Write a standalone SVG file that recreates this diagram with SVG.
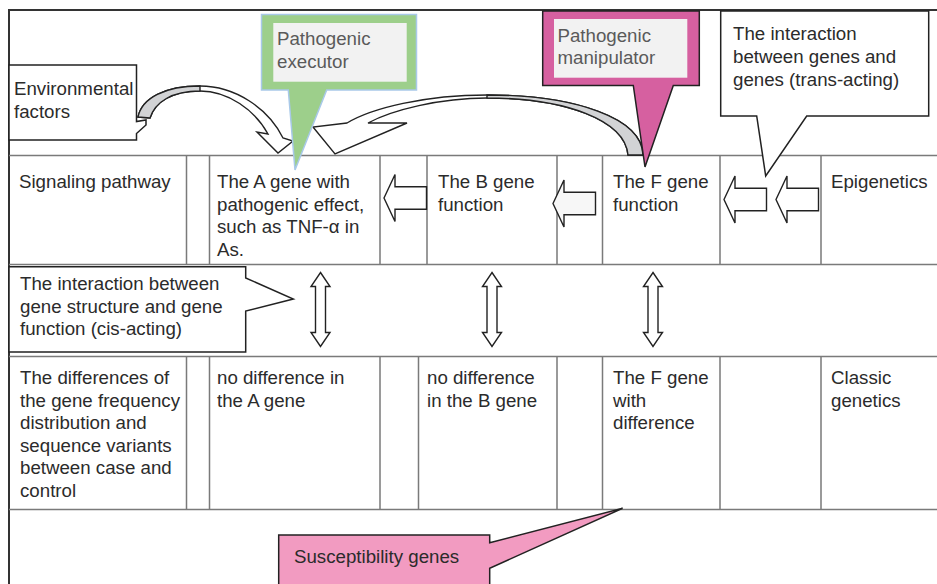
<svg xmlns="http://www.w3.org/2000/svg" width="937" height="584" viewBox="0 0 937 584">
<defs>
<style>
text{font-family:"Liberation Sans",Arial,sans-serif;font-size:18.7px;fill:#2b2b2b}
.grid{stroke:#7a7a7a;stroke-width:1.5;fill:none}
.frame{stroke:#333;stroke-width:2;fill:none}
.blk{fill:#fff;stroke:#222;stroke-width:1.4;stroke-linejoin:miter}
.call{stroke:#222;stroke-width:1.5;stroke-linejoin:miter}
.soft{fill:#5a5a5a}
.grey{fill:#d2d3d5;stroke:#222;stroke-width:1.4}
</style>
<path id="dbl" d="M0,0 L9.5,14 L5,14 L5,60 L9.5,60 L0,74 L-9.5,60 L-5,60 L-5,14 L-9.5,14 Z"/>
<path id="left" d="M0,0 L11,-23.5 L11,-11.3 L42.5,-11.3 L42.5,11.3 L11,11.3 L11,23.5 Z"/>
</defs>
<rect x="0" y="0" width="937" height="584" fill="#fff"/>

<g id="table">
<line class="frame" x1="9" y1="10" x2="937" y2="10"/>
<line class="frame" x1="9" y1="9" x2="9" y2="584"/>
<line class="grid" x1="9" y1="155.5" x2="937" y2="155.5"/>
<line class="grid" x1="9" y1="264.5" x2="937" y2="264.5"/>
<line class="grid" x1="9" y1="356.5" x2="937" y2="356.5"/>
<line class="grid" x1="9" y1="509.5" x2="937" y2="509.5"/>
<path class="grid" d="M186.5,155.5V264.5M209.5,155.5V264.5M380,155.5V264.5M427,155.5V264.5M557,155.5V264.5M602.5,155.5V264.5M720,155.5V264.5M821,155.5V264.5"/>
<path class="grid" d="M186.5,356.5V509.5M209.5,356.5V509.5M380,356.5V509.5M418.5,356.5V509.5M557,356.5V509.5M602.5,356.5V509.5M720,356.5V509.5M821,356.5V509.5"/>
</g>

<g id="row1-text">
<text x="19" y="188">Signaling pathway</text>
<text x="217" y="188">The A gene with</text>
<text x="217" y="210.5">pathogenic effect,</text>
<text x="217" y="233">such as TNF-α in</text>
<text x="217" y="255.5">As.</text>
<text x="438" y="188">The B gene</text>
<text x="438" y="210.5">function</text>
<text x="613" y="188">The F gene</text>
<text x="613" y="210.5">function</text>
<text x="831" y="188">Epigenetics</text>
</g>

<g id="row3-text">
<text x="20" y="384">The differences of</text>
<text x="20" y="406.5">the gene frequency</text>
<text x="20" y="429">distribution and</text>
<text x="20" y="451.5">sequence variants</text>
<text x="20" y="474">between case and</text>
<text x="20" y="496.5">control</text>
<text x="217" y="384">no difference in</text>
<text x="217" y="406.5">the A gene</text>
<text x="427" y="384">no difference</text>
<text x="427" y="406.5">in the B gene</text>
<text x="613" y="384">The F gene</text>
<text x="613" y="406.5">with</text>
<text x="613" y="429">difference</text>
<text x="831" y="384">Classic</text>
<text x="831" y="406.5">genetics</text>
</g>

<g id="connectors">
<use href="#dbl" class="blk" x="320.5" y="272.5"/>
<use href="#dbl" class="blk" x="492" y="272.5"/>
<use href="#dbl" class="blk" x="653" y="272.5"/>
<use href="#left" class="blk" x="384" y="198"/>
<use href="#left" class="blk" x="553" y="203.5" style="fill:#f7f7f7"/>
<use href="#left" class="blk" x="724" y="199.5"/>
<use href="#left" class="blk" x="776" y="199.5"/>
<path class="blk" d="M138,117 C142,98 165,86 200,86 C235,86 268,108 283,138 L293,141 L278,153 L257,132 L268,134 C255,110 228,91 200,91 C172,91 155,102 150,118 Z"/>
<path class="grey" d="M138,117 C142,98 165,86 200,86 L200,91 C172,91 155,102 150,118 Z"/>
<path class="blk" d="M643,155 C642,118 575,95 487,95 C425,95 372,108 347,123 L313,127 L335,154 L407,123 L368,123 C392,110 440,98 487,98 C565,98 625,120 628,155 Z"/>
<path class="grey" d="M643,155 C642,118 575,95 487,95 L487,98 C565,98 625,120 628,155 Z"/>
</g>

<g id="environmental">
<path class="call" fill="#fff" d="M9,65 H136.5 V121.5 L146,120 L146,125 L136.5,133.5 V140 H9 Z"/>
<text x="14" y="95">Environmental</text>
<text x="14" y="117.5">factors</text>
</g>

<g id="executor">
<path d="M261.5,14.5 H416.5 V90 H326.7 L295,170 L288.3,90 H261.5 Z" fill="#9dcf8b" stroke="#a9c9e9" stroke-width="1.5"/>
<rect x="273.3" y="23" width="133.4" height="58.7" fill="#f2f2f2"/>
<text class="soft" x="277" y="45">Pathogenic</text>
<text class="soft" x="277" y="67.5">executor</text>
</g>

<g id="manipulator">
<path class="call" d="M542.7,11 H699.3 V85.5 H673.3 L645,167 L633.3,85.5 H542.7 Z" fill="#d660a0"/>
<rect x="554" y="19" width="133.3" height="58.7" fill="#f2f2f2"/>
<text class="soft" x="557.5" y="41.5">Pathogenic</text>
<text class="soft" x="557.5" y="64">manipulator</text>
</g>

<g id="trans-acting">
<path class="call" fill="#fff" d="M720.7,11 H928.7 V116 H806.7 L765.7,176 L756.7,116 H720.7 Z"/>
<text x="733" y="40">The interaction</text>
<text x="733" y="63">between genes and</text>
<text x="733" y="86">genes (trans-acting)</text>
</g>

<g id="cis-acting">
<path class="call" fill="#fff" d="M9,266.7 H245.7 V278 L293.3,299 L245.7,311 V352 H9 Z"/>
<text x="20" y="290">The interaction between</text>
<text x="20" y="312.5">gene structure and gene</text>
<text x="20" y="335">function (cis-acting)</text>
</g>

<g id="susceptibility">
<path class="call" fill="#f29bc1" d="M278.7,535 H489.7 V542.7 L622.6,508.3 L489.7,568.3 V592 H278.7 Z"/>
<text x="294" y="563">Susceptibility genes</text>
</g>
</svg>
